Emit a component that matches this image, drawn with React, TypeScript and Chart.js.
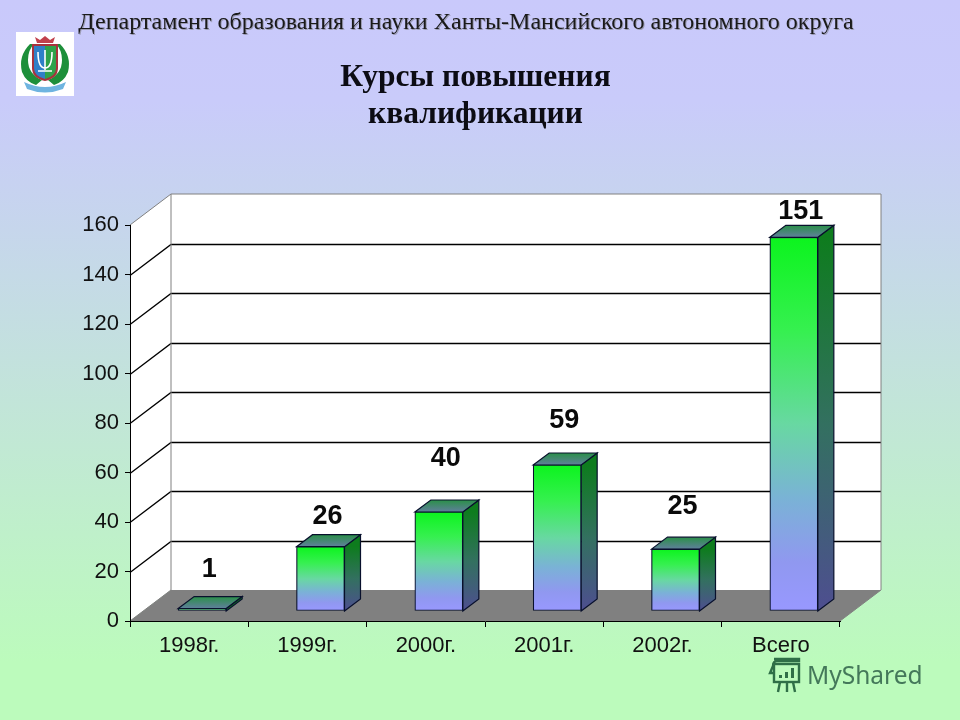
import { useEffect, useRef } from 'react';
import { Chart, registerables } from 'chart.js';

Chart.register(...registerables);

const categories = ['1998г.', '1999г.', '2000г.', '2001г.', '2002г.', 'Всего'];
const courses = [1, 26, 40, 59, 25, 151];
// labels were placed by hand in the original, so each has its own lift above the bar
const labelLift = [40, 31, 54, 45, 44, 27];

const yMax = 160;
const yStep = 20;

// 3D look of the old office chart
const wallDx = 41;
const wallDy = -31;
const barShiftX = 13;
const barShiftY = -10;
const barDx = 16;
const barDy = -12;

const axisFont = { family: '"Liberation Sans", Arial, sans-serif', size: 22 };

const frontGradient = (ctx: CanvasRenderingContext2D, top: number, bottom: number) => {
  const g = ctx.createLinearGradient(0, top, 0, bottom);
  g.addColorStop(0, '#0cf41e');
  g.addColorStop(0.25, '#36f050');
  g.addColorStop(0.5, '#68d8a2');
  g.addColorStop(0.7, '#7ab2d6');
  g.addColorStop(0.87, '#9098f0');
  g.addColorStop(1, '#9898ff');
  return g;
};

const sideGradient = (ctx: CanvasRenderingContext2D, top: number, bottom: number) => {
  const g = ctx.createLinearGradient(0, top, 0, bottom);
  g.addColorStop(0, '#0e7c1e');
  g.addColorStop(0.5, '#337060');
  g.addColorStop(1, '#4e4e90');
  return g;
};

const poly = (ctx: CanvasRenderingContext2D, pts: number[][]) => {
  ctx.beginPath();
  pts.forEach((p, i) => (i ? ctx.lineTo(p[0], p[1]) : ctx.moveTo(p[0], p[1])));
  ctx.closePath();
};

const walls = {
  id: 'walls',
  beforeDraw(chart: any) {
    const { ctx, chartArea: a, scales } = chart;
    const y0 = scales.y.getPixelForValue(0);
    const yTop = scales.y.getPixelForValue(yMax);
    ctx.save();
    // white walls
    ctx.fillStyle = '#ffffff';
    poly(ctx, [
      [a.left, y0],
      [a.left + wallDx, y0 + wallDy],
      [a.right + wallDx, y0 + wallDy],
      [a.right + wallDx, yTop + wallDy],
      [a.left + wallDx, yTop + wallDy],
      [a.left, yTop],
    ]);
    ctx.fill();
    // grey floor
    ctx.fillStyle = '#808080';
    poly(ctx, [
      [a.left, y0],
      [a.left + wallDx, y0 + wallDy],
      [a.right + wallDx, y0 + wallDy],
      [a.right, y0],
    ]);
    ctx.fill();
    // gridlines run along the side wall and the back wall
    ctx.lineWidth = 1.3;
    ctx.strokeStyle = '#000000';
    for (let v = yStep; v < yMax; v += yStep) {
      const y = Math.round(scales.y.getPixelForValue(v)) + 0.5;
      ctx.beginPath();
      ctx.moveTo(a.left, y);
      ctx.lineTo(a.left + wallDx, y + wallDy);
      ctx.lineTo(a.right + wallDx, y + wallDy);
      ctx.stroke();
    }
    ctx.lineWidth = 1;
    ctx.strokeStyle = '#808080';
    ctx.beginPath();
    ctx.moveTo(a.left, yTop);
    ctx.lineTo(a.left + wallDx, yTop + wallDy);
    ctx.lineTo(a.right + wallDx, yTop + wallDy);
    ctx.lineTo(a.right + wallDx, y0 + wallDy);
    ctx.lineTo(a.right, y0);
    ctx.moveTo(a.left + wallDx, yTop + wallDy);
    ctx.lineTo(a.left + wallDx, y0 + wallDy);
    ctx.lineTo(a.left, y0);
    ctx.stroke();
    ctx.restore();
  },
};

const bars3d = {
  id: 'bars3d',
  beforeDatasetDraw(chart: any, args: any) {
    const { ctx } = chart;
    const baseY = chart.scales.y.getPixelForValue(0);
    ctx.save();
    ctx.translate(barShiftX, barShiftY);
    ctx.lineWidth = 1.2;
    ctx.strokeStyle = '#08102c';
    args.meta.data.forEach((bar: any) => {
      const right = bar.x + bar.width / 2;
      const left = bar.x - bar.width / 2;
      // side face
      ctx.fillStyle = sideGradient(ctx, bar.y, baseY);
      poly(ctx, [
        [right, bar.y],
        [right + barDx, bar.y + barDy],
        [right + barDx, baseY + barDy],
        [right, baseY],
      ]);
      ctx.fill();
      ctx.stroke();
      // top face
      const top = ctx.createLinearGradient(0, bar.y + barDy, 0, bar.y);
      top.addColorStop(0, '#2a9048');
      top.addColorStop(1, '#607f9c');
      ctx.fillStyle = top;
      poly(ctx, [
        [left, bar.y],
        [left + barDx, bar.y + barDy],
        [right + barDx, bar.y + barDy],
        [right, bar.y],
      ]);
      ctx.fill();
      ctx.stroke();
    });
  },
  afterDatasetDraw(chart: any) {
    chart.ctx.restore();
  },
  afterDatasetsDraw(chart: any) {
    const { ctx } = chart;
    const meta = chart.getDatasetMeta(0);
    ctx.save();
    ctx.fillStyle = '#0a0a0a';
    ctx.font = 'bold 27px "Liberation Sans", Arial, sans-serif';
    ctx.textAlign = 'center';
    ctx.textBaseline = 'middle';
    meta.data.forEach((bar: any, i: number) => {
      ctx.fillText(String(courses[i]), bar.x + barShiftX + 7, bar.y + barShiftY - labelLift[i] + 1);
    });
    ctx.restore();
  },
};

function Emblem() {
  return (
    <svg width="58" height="64" viewBox="0 0 58 64" style={{ position: 'absolute', left: 16, top: 32 }}>
      <rect width="58" height="64" fill="#ffffff" />
      <path d="M14 12 Q2 24 6 40 Q10 50 20 53 L26 48 Q12 42 12 28 Q12 18 18 12 Z" fill="#1d8f3a" />
      <path d="M44 12 Q56 24 52 40 Q48 50 38 53 L32 48 Q46 42 46 28 Q46 18 40 12 Z" fill="#1d8f3a" />
      <path d="M16 12 H42 V36 Q42 46 29 49 Q16 46 16 36 Z" fill="#a8323c" />
      <path d="M18 14 H29 V47 Q18 44 18 36 Z" fill="#2f7fc8" />
      <path d="M29 14 H40 V36 Q40 44 29 47 Z" fill="#2ea24a" />
      <path d="M22 20 Q22 36 29 36 Q36 36 36 20 M29 18 V38 M22 39 H36" stroke="#ffffff" strokeWidth="1.6" fill="none" />
      <path d="M19 5 L24 8 L29 4 L34 8 L39 5 L37 11 H21 Z" fill="#c0404c" />
      <path d="M8 50 Q29 60 50 50 L47 57 Q29 64 11 57 Z" fill="#6fb4e0" />
    </svg>
  );
}

function Watermark() {
  return (
    <div style={{ position: 'absolute', left: 767, top: 657, width: 170, height: 44, color: '#44785a' }}>
      <svg width="38" height="36" viewBox="0 0 38 36" style={{ position: 'absolute', left: 0, top: 0 }}>
        <g stroke="#2f6f47" strokeWidth="2.4" fill="none">
          <path d="M7 2 H32 V4 H10 Q6 4 6 9 L3 16 H6" />
          <rect x="7" y="7" width="25" height="18" />
          <path d="M13 25 L11 35 M20 25 V35 M26 25 L28 35" />
        </g>
        <g fill="#2f6f47">
          <rect x="12" y="18" width="3" height="3" />
          <rect x="18" y="15" width="3" height="6" />
          <rect x="24" y="11" width="3" height="10" />
        </g>
      </svg>
      <div
        style={{
          position: 'absolute',
          left: 40,
          top: 1,
          font: '24.5px "Noto Sans", sans-serif',
          lineHeight: '34px',
          whiteSpace: 'nowrap',
        }}
      >
        MyShared
      </div>
    </div>
  );
}

export default function App() {
  const canvasRef = useRef<HTMLCanvasElement>(null);

  useEffect(() => {
    document.body.style.margin = '0';
    document.documentElement.style.overflow = 'hidden';
    if (!canvasRef.current) return;

    const chart = new Chart(canvasRef.current, {
      type: 'bar',
      data: {
        labels: categories,
        datasets: [
          {
            data: courses,
            barThickness: 48,
            clip: false,
            borderWidth: 1.2,
            borderSkipped: false,
            borderColor: '#08102c',
            backgroundColor: (c: any) => {
              const { ctx, scales } = c.chart;
              if (!scales.y || !c.parsed) return '#0cf41e';
              const top = scales.y.getPixelForValue(c.parsed.y);
              const bottom = scales.y.getPixelForValue(0);
              if (!Number.isFinite(top) || !Number.isFinite(bottom)) return '#0cf41e';
              return frontGradient(ctx, top, bottom);
            },
          } as any,
        ],
      },
      options: {
        responsive: false,
        animation: false,
        layout: { padding: { top: 225, right: 120, left: 0, bottom: 0 } },
        plugins: {
          legend: { display: false },
          title: { display: false },
          tooltip: { enabled: false },
        },
        scales: {
          x: {
            afterFit: (s: any) => {
              s.height = 99;
            },
            grid: { drawOnChartArea: false, color: '#000000', tickLength: 6 },
            border: { color: '#000000' },
            ticks: { color: '#111111', font: axisFont, padding: 6, maxRotation: 0 },
          },
          y: {
            min: 0,
            max: yMax,
            afterFit: (s: any) => {
              s.width = 130;
            },
            grid: { drawOnChartArea: false, color: '#000000', tickLength: 5 },
            border: { color: '#000000' },
            ticks: { stepSize: yStep, color: '#111111', font: axisFont, padding: 6 },
          },
        },
      },
      plugins: [walls, bars3d],
    });

    return () => {
      chart.destroy();
    };
  }, []);

  return (
    <div
      style={{
        position: 'relative',
        width: 960,
        height: 720,
        overflow: 'hidden',
        background: 'linear-gradient(180deg, #c9c9fb 0%, #c9cbfa 14%, #bcfbbc 92%, #bcfbbc 100%)',
      }}
    >
      <canvas ref={canvasRef} width={960} height={720} style={{ position: 'absolute', left: 0, top: 0 }} />
      <Emblem />
      <div
        style={{
          position: 'absolute',
          left: 0,
          top: 8,
          width: 932,
          textAlign: 'center',
          font: '24px "Liberation Serif", serif',
          lineHeight: '26px',
          color: '#1a1a1a',
          textShadow: '1px 1px 0 #9c9cb4',
          whiteSpace: 'nowrap',
        }}
      >
        Департамент образования и науки Ханты-Мансийского автономного округа
      </div>
      <div
        style={{
          position: 'absolute',
          left: 0,
          top: 57,
          width: 951,
          textAlign: 'center',
          font: 'bold 31.5px "Liberation Serif", serif',
          lineHeight: '37px',
          color: '#0c0c14',
        }}
      >
        Курсы повышения
        <br />
        квалификации
      </div>
      <Watermark />
    </div>
  );
}
